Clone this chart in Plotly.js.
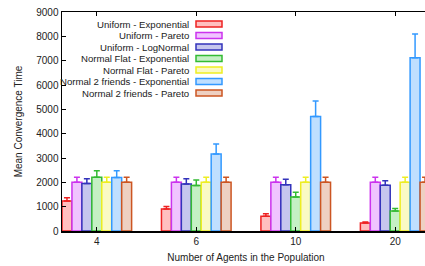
<!DOCTYPE html>
<html><head><meta charset="utf-8">
<script src="https://cdn.plot.ly/plotly-3.0.1.min.js"></script>
<style>html,body{margin:0;padding:0;overflow:hidden;background:#fff;width:425px;height:266px}</style>
</head><body><div id="chart" style="width:430px;height:266px"></div>
<script>
const categories = ["4", "6", "10", "20"];
const seriesNames = ["Uniform - Exponential", "Uniform - Pareto", "Uniform - LogNormal", "Normal Flat - Exponential", "Normal Flat - Pareto", "Normal 2 friends - Exponential", "Normal 2 friends - Pareto"];
const uniformExp = [1230, 900, 610, 330];
const uniformExpErr = [140, 110, 95, 40];
const uniformPareto = [2000, 2000, 2000, 2000];
const uniformParetoErr = [210, 210, 210, 210];
const uniformLogNormal = [1950, 1935, 1905, 1880];
const uniformLogNormalErr = [200, 215, 220, 190];
const flatExp = [2210, 1865, 1400, 820];
const flatExpErr = [270, 230, 190, 100];
const flatPareto = [2000, 2000, 2000, 2000];
const flatParetoErr = [210, 210, 210, 210];
const friendsExp = [2200, 3160, 4710, 7120];
const friendsExpErr = [280, 420, 630, 980];
const friendsPareto = [2000, 2000, 2000, 2000];
const friendsParetoErr = [210, 210, 210, 210];

const values = [uniformExp, uniformPareto, uniformLogNormal, flatExp, flatPareto, friendsExp, friendsPareto];
const errors = [uniformExpErr, uniformParetoErr, uniformLogNormalErr, flatExpErr, flatParetoErr, friendsExpErr, friendsParetoErr];
const fills = ["#ffbfbf", "#f0c4ff", "#c6c6ee", "#c4f0c4", "#fafac4", "#bfdfff", "#eed0c2"];
const lines = ["#ee2222", "#cc33ee", "#3333bb", "#33bb33", "#eeee22", "#3399ff", "#cc5522"];

const traces = values.map((v, i) => ({
  type: "bar", x: categories, y: v, name: seriesNames[i],
  marker: {color: fills[i], line: {color: lines[i], width: 1.5}},
  error_y: {type: "data", symmetric: false, array: errors[i], arrayminus: v.map(() => 0), visible: true,
    color: lines[i], thickness: 1.5, width: 3},
  showlegend: false
}));

const annotations = [];
const shapes = [];
const plotW = 368, plotH = 219;
seriesNames.forEach((n, i) => {
  const yPix = 24 + i * 11.5;
  const yp = (231 - yPix) / plotH;
  annotations.push({xref: "paper", yref: "paper", x: (191 - 62) / plotW, y: yp, xanchor: "right", yanchor: "middle",
    text: n, showarrow: false, font: {family: "Liberation Sans, Arial, sans-serif", size: 9.6, color: "#222"}});
  shapes.push({type: "rect", xref: "paper", yref: "paper", x0: (196 - 62) / plotW, x1: (222 - 62) / plotW,
    y0: yp - 3 / plotH, y1: yp + 3 / plotH, fillcolor: fills[i], line: {color: lines[i], width: 1.5}});
});

const layout = {
  width: 430, height: 266,
  margin: {l: 62, r: 0, t: 12, b: 35},
  paper_bgcolor: "#fff", plot_bgcolor: "#fff",
  barmode: "group", bargap: 0.3, bargroupgap: 0,
  font: {family: "Liberation Sans, Arial, sans-serif", size: 10, color: "#222"},
  xaxis: {type: "category", range: [-0.35, 3.35], showline: true, linecolor: "#000", linewidth: 1.5, mirror: "ticks",
    ticks: "inside", ticklen: 4, tickcolor: "#000", showgrid: false, zeroline: false,
    tickfont: {size: 10},
    title: {text: "Number of Agents in the Population", font: {size: 10}, standoff: 8}},
  yaxis: {range: [0, 9000], dtick: 1000, showline: true, linecolor: "#000", linewidth: 1.5, mirror: "ticks",
    ticks: "inside", ticklen: 4, tickcolor: "#000", showgrid: false, zeroline: false,
    tickfont: {size: 10},
    title: {text: "Mean Convergence Time", font: {size: 10}, standoff: 12}},
  annotations: annotations, shapes: shapes
};
Plotly.newPlot("chart", traces, layout, {displayModeBar: false, staticPlot: true});
</script></body></html>
